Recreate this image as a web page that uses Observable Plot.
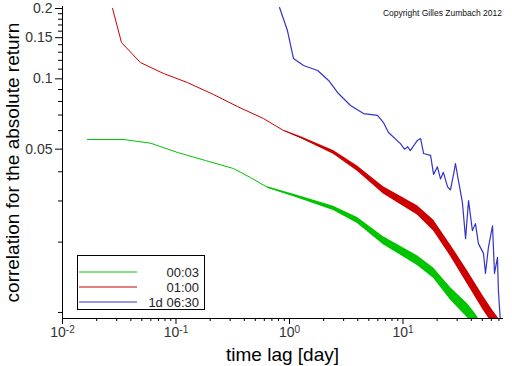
<!DOCTYPE html>
<html>
<head>
<meta charset="utf-8">
<script src="https://cdn.jsdelivr.net/npm/d3@7"></script>
<script src="https://cdn.jsdelivr.net/npm/@observablehq/plot@0.6"></script>
<style>
  html, body { margin: 0; padding: 0; background: white; }
  #wrap { position: relative; width: 512px; height: 366px; font-family: "Liberation Sans", Arial, sans-serif; }
  #copy { position: absolute; right: 10px; top: 8px; font-size: 8.5px; color: #111; }
  #legend { position: absolute; left: 77px; top: 255px; }
</style>
</head>
<body>
<div id="wrap">
  <div id="chart"></div>
  <div id="copy">Copyright Gilles Zumbach 2012</div>
  <svg id="legend" width="129" height="56"></svg>
</div>
<script>
// ---- data ----
const seriesNames = ["00:03", "01:00", "1d 06:30"];
const seriesColors = ["#00c400", "#cc0000", "#3333cc"];

// 00:03 (green)
const greenX = [0.0166, 0.0344, 0.060, 0.103, 0.182, 0.321, 0.453, 0.640, 1.25, 2.44, 3.97, 6.73, 13.4, 18.6, 26.2, 37.0, 42.0];
const greenY = [0.0550, 0.0550, 0.0530, 0.0484, 0.0447, 0.0413, 0.0378, 0.0343, 0.0310, 0.0279, 0.0247, 0.0203, 0.0167, 0.0147, 0.0120, 0.0102, 0.0094];
const greenBandX  = [0.64, 1.25, 2.44, 3.97, 6.73, 13.4, 18.6, 26.2, 37.0, 42.0, 46.0];
const greenBandLo = [0.0341, 0.0306, 0.0273, 0.0240, 0.0195, 0.0159, 0.0140, 0.0113, 0.0095, 0.0088, 0.0080];
const greenBandHi = [0.0345, 0.0314, 0.0285, 0.0255, 0.0211, 0.0175, 0.0155, 0.0128, 0.0109, 0.0101, 0.0095];

// 01:00 (red)
const redX = [0.0276, 0.0331, 0.0486, 0.0776, 0.126, 0.214, 0.348, 0.590, 0.885, 1.25, 2.44, 3.97, 6.73, 13.4, 18.6, 26.2, 37.0, 51.2, 62.7];
const redY = [0.200, 0.143, 0.1174, 0.1054, 0.0964, 0.0857, 0.0761, 0.0676, 0.0601, 0.0561, 0.0484, 0.0413, 0.0333, 0.0273, 0.0236, 0.0184, 0.0141, 0.0109, 0.0094];
const redBandX  = [0.885, 1.25, 2.44, 3.97, 6.73, 13.4, 18.6, 26.2, 37.0, 51.2, 62.7, 70.0];
const redBandLo = [0.0599, 0.0557, 0.0476, 0.0402, 0.0321, 0.0261, 0.0223, 0.0174, 0.0132, 0.0102, 0.0088, 0.0080];
const redBandHi = [0.0603, 0.0566, 0.0493, 0.0424, 0.0345, 0.0286, 0.0249, 0.0195, 0.0151, 0.0117, 0.0101, 0.0094];

// 1d 06:30 (blue)
const blueX = [0.817, 0.959, 1.084, 1.33, 1.77, 2.21, 2.70, 3.45, 4.49, 5.96, 6.73, 7.45, 9.50, 10.3, 11.0, 11.6, 13.4, 14.3, 15.2, 17.5, 18.6, 20.1, 21.4, 22.7, 24.7, 26.2, 27.9, 29.0, 30.8, 33.4, 35.6, 37.8, 40.9, 43.5, 46.2, 51.2, 53.3, 56.6, 61.5, 64.0, 68.0, 69.3, 72.3];
const blueY = [0.202, 0.161, 0.1222, 0.114, 0.1086, 0.0984, 0.0865, 0.0769, 0.0710, 0.0697, 0.0650, 0.0589, 0.0528, 0.0500, 0.0512, 0.0493, 0.0545, 0.0555, 0.0479, 0.0470, 0.0390, 0.0420, 0.0373, 0.0398, 0.0345, 0.0335, 0.0390, 0.0434, 0.0367, 0.0295, 0.0207, 0.0301, 0.0224, 0.0240, 0.0197, 0.0179, 0.0147, 0.0190, 0.0235, 0.0147, 0.0172, 0.0124, 0.0090];

// axes
const xDomain = [0.01, 75.3];
const yDomain = [0.00942, 0.204];
const xMajor = [0.01, 0.1, 1, 10];
const xMinor = [0.02,0.03,0.04,0.05,0.06,0.07,0.08,0.09, 0.2,0.3,0.4,0.5,0.6,0.7,0.8,0.9, 2,3,4,5,6,7,8,9, 20,30,40,50,60,70];
const yMajor = [0.05, 0.1, 0.15, 0.2];
const yMajorLabels = ["0.05", "0.1", "0.15", "0.2"];
const yMinor = [0.01,0.02,0.03,0.04,0.06,0.07,0.08,0.09,0.11,0.12,0.13,0.14,0.16,0.17,0.18,0.19];
const xLabel = "time lag [day]";
const yLabel = "correlation for the absolute return";

// ---- build ----
const toRows = (xs, ys) => xs.map((x, i) => ({x, y: ys[i]}));
const toBand = (xs, lo, hi) => xs.map((x, i) => ({x, lo: lo[i], hi: hi[i]}));

const green = toRows(greenX, greenY), red = toRows(redX, redY), blue = toRows(blueX, blueY);
const gBand = toBand(greenBandX, greenBandLo, greenBandHi);
const rBand = toBand(redBandX, redBandLo, redBandHi);

const chart = Plot.plot({
  width: 512, height: 366,
  marginLeft: 62, marginRight: 10, marginTop: 6, marginBottom: 48,
  x: {type: "log", domain: xDomain},
  y: {type: "log", domain: yDomain},
  style: {fontFamily: "Liberation Sans, Arial, sans-serif", background: "white", color: "black"},
  marks: [
    Plot.areaY(gBand, {x: "x", y1: "lo", y2: "hi", fill: seriesColors[0], clip: true}),
    Plot.line(green, {x: "x", y: "y", stroke: seriesColors[0], strokeWidth: 1, clip: true}),
    Plot.areaY(rBand, {x: "x", y1: "lo", y2: "hi", fill: seriesColors[1], clip: true}),
    Plot.line(red, {x: "x", y: "y", stroke: seriesColors[1], strokeWidth: 1, clip: true}),
    Plot.line(blue, {x: "x", y: "y", stroke: seriesColors[2], strokeWidth: 1.2, clip: true}),
    Plot.frame({anchor: "left", stroke: "black"}),
    Plot.frame({anchor: "bottom", stroke: "black"}),
    Plot.axisY({ticks: yMajor, tickSize: 7, tickPadding: 3, fontSize: 14, label: null,
      tickFormat: d => yMajorLabels[yMajor.indexOf(d)], fill: "#333"}),
    Plot.axisY({ticks: yMinor, tickSize: 4, tickFormat: () => "", label: null}),
    Plot.axisY({ticks: [], label: yLabel, labelAnchor: "center", labelArrow: "none", labelOffset: 57, fontSize: 19}),
    Plot.axisX({ticks: xMajor, tickSize: 6, tickPadding: 3, fontSize: 14, label: null,
      tickFormat: d => String(Math.round(Math.log10(d))), fill: "#333"}),
    Plot.axisX({ticks: xMinor, tickSize: 3, tickFormat: () => "", label: null}),
    Plot.axisX({ticks: [], label: xLabel, labelAnchor: "center", labelArrow: "none", labelOffset: 42, fontSize: 19})
  ]
});
document.getElementById("chart").appendChild(chart);

// superscript powers of ten on the x axis (labelled major ticks only)
chart.querySelectorAll('g[aria-label="x-axis tick label"] text').forEach(t => {
  const e = t.textContent;
  if (!e) return;
  t.textContent = "10";
  const s = document.createElementNS("http://www.w3.org/2000/svg", "tspan");
  s.setAttribute("dy", "-0.45em");
  s.setAttribute("font-size", "10");
  s.textContent = e;
  t.appendChild(s);
});

// legend
const lg = d3.select("#legend");
lg.append("rect").attr("x", 0.5).attr("y", 0.5).attr("width", 127).attr("height", 54)
  .attr("fill", "white").attr("stroke", "black");
seriesNames.forEach((n, i) => {
  const yy = 17 + i * 15;
  lg.append("line").attr("x1", 2).attr("x2", 60).attr("y1", yy).attr("y2", yy)
    .attr("stroke", seriesColors[i]).attr("stroke-width", 1);
  lg.append("text").attr("x", 122).attr("y", yy + 4.5).attr("text-anchor", "end")
    .attr("font-size", 13).attr("fill", "#222").attr("font-family", "Liberation Sans, Arial, sans-serif").text(n);
});
</script>
</body>
</html>
